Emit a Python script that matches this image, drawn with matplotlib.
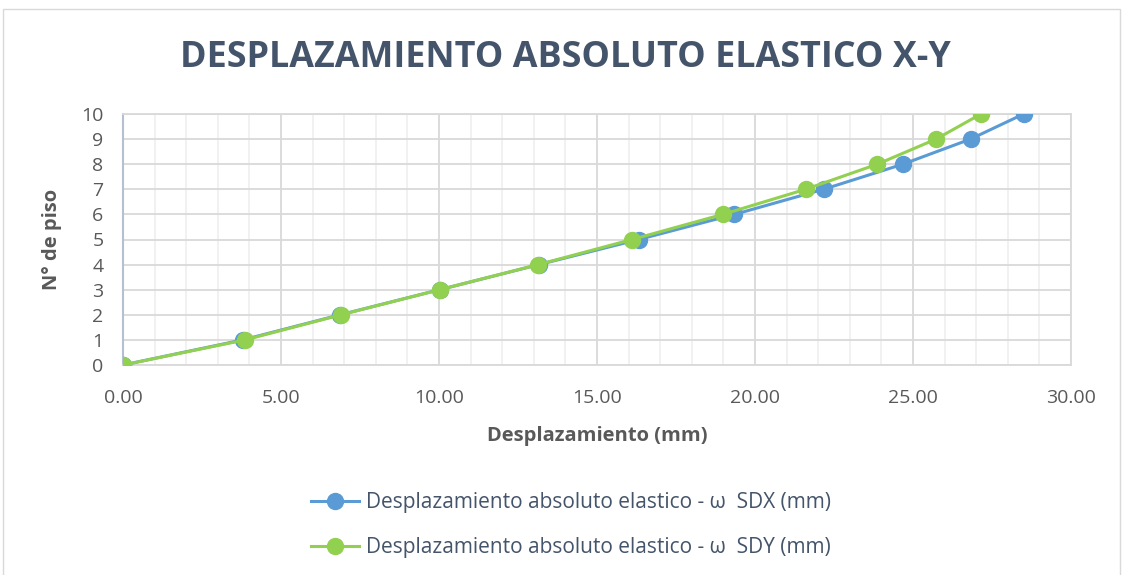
import matplotlib.pyplot as plt
from matplotlib.patches import Rectangle
from matplotlib.ticker import MultipleLocator

# Storey numbers and elastic absolute displacements (mm)
pisos = [0, 1, 2, 3, 4, 5, 6, 7, 8, 9, 10]
sdx = [0.00, 3.79, 6.87, 10.02, 13.16, 16.32, 19.35, 22.17, 24.68, 26.82, 28.50]
sdy = [0.00, 3.86, 6.90, 10.02, 13.14, 16.11, 18.98, 21.60, 23.87, 25.73, 27.15]

x_ticks = [0, 5, 10, 15, 20, 25, 30]
y_ticks = list(range(0, 11))

azul = '#5B9BD5'
verde = '#92D050'
texto = '#44546A'
gris = '#595959'

plt.rcParams['font.family'] = ['Open Sans', 'DejaVu Sans']

fig = plt.figure(figsize=(11.27, 5.75), dpi=100)

# light frame around the chart area
fig.patches.append(Rectangle((3 / 1127, -0.01), 1117 / 1127, 1 - 9 / 575 + 0.01,
                             transform=fig.transFigure, fill=False,
                             edgecolor='#D9D9D9', linewidth=1))

ax = fig.add_axes([123 / 1127, 1 - 365 / 575, 948 / 1127, 251 / 575])

ax.plot(sdx, pisos, color=azul, linewidth=2.2, marker='o', markersize=11.5,
        label='Desplazamiento absoluto elastico - ω  SDX (mm)', zorder=3)
ax.plot(sdy, pisos, color=verde, linewidth=2.2, marker='o', markersize=11.5,
        label='Desplazamiento absoluto elastico - ω  SDY (mm)', zorder=4)

ax.set_xlim(0, 30)
ax.set_ylim(0, 10)
ax.set_xticks(x_ticks)
ax.set_xticklabels([f'{v:.2f}' for v in x_ticks])
ax.set_yticks(y_ticks)
ax.xaxis.set_minor_locator(MultipleLocator(1))

ax.grid(which='major', color='#D9D9D9', linewidth=1.3)
ax.grid(which='minor', axis='x', color='#F0F0F0', linewidth=1.3)
ax.set_axisbelow(True)

for side in ['top', 'right', 'bottom']:
    ax.spines[side].set_color('#D9D9D9')
    ax.spines[side].set_linewidth(1.3)
ax.spines['left'].set_color('#B4BFCF')
ax.spines['left'].set_linewidth(1.5)

ax.tick_params(which='both', length=0, labelsize=14, labelcolor=gris)
ax.tick_params(axis='x', pad=17)
ax.tick_params(axis='y', pad=14)

ax.set_xlabel('Desplazamiento (mm)', fontsize=14.5, fontweight='bold', color=gris, labelpad=14)
ax.set_ylabel('N° de piso', fontsize=14.5, fontweight='bold', color=gris, labelpad=14)

fig.text(0.5015, 1 - 58 / 575, 'DESPLAZAMIENTO ABSOLUTO ELASTICO X-Y',
         ha='center', va='center', fontsize=25.8, fontweight='bold', color=texto)

fig.legend(loc='center', bbox_to_anchor=(571 / 1127, 1 - 525 / 575), ncol=1,
           frameon=False, fontsize=15, labelcolor=texto, handlelength=2.3,
           labelspacing=1.15, handletextpad=0.3)

fig.savefig('out.png', dpi=100)
